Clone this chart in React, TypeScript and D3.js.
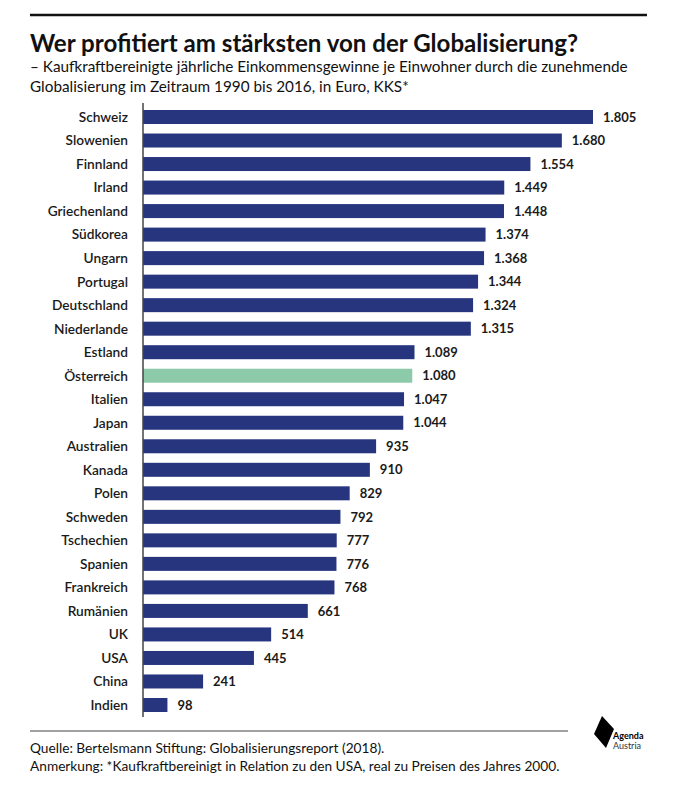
import { useEffect, useRef } from "react";
import * as d3 from "d3";

const countries = [
  "Schweiz", "Slowenien", "Finnland", "Irland", "Griechenland", "Südkorea", "Ungarn",
  "Portugal", "Deutschland", "Niederlande", "Estland", "Österreich", "Italien", "Japan",
  "Australien", "Kanada", "Polen", "Schweden", "Tschechien", "Spanien", "Frankreich",
  "Rumänien", "UK", "USA", "China", "Indien",
];
const gains = [
  1805, 1680, 1554, 1449, 1448, 1374, 1368, 1344, 1324, 1315, 1089, 1080, 1047, 1044,
  935, 910, 829, 792, 777, 776, 768, 661, 514, 445, 241, 98,
];
const highlight = "Österreich";

const title = "Wer profitiert am stärksten von der Globalisierung?";
const subtitleLines = [
  "– Kaufkraftbereinigte jährliche Einkommensgewinne je Einwohner durch die zunehmende",
  "Globalisierung im Zeitraum 1990 bis 2016, in Euro, KKS*",
];
const footerLines = [
  "Quelle: Bertelsmann Stiftung: Globalisierungsreport (2018).",
  "Anmerkung: *Kaufkraftbereinigt in Relation zu den USA, real zu Preisen des Jahres 2000.",
];

const W = 680;
const H = 785;
const FONT = "Lato, 'Open Sans', sans-serif";
const BLUE = "#27357f";
const GREEN = "#8ccaa9";

const de = d3.formatLocale({ decimal: ",", thousands: ".", grouping: [3], currency: ["", " €"] });
const fmt = de.format(",d");

export default function App() {
  const ref = useRef<SVGSVGElement>(null);

  useEffect(() => {
    if (!ref.current) return;
    const svg = d3.select(ref.current);
    svg.selectAll("*").remove();

    const data = countries.map((c, i) => ({ name: c, value: gains[i] }));

    const x = d3.scaleLinear().domain([0, 1805]).range([143, 593]);
    const y = d3.scalePoint<string>().domain(countries).range([117, 705]);
    const barH = 14;

    // top rule
    svg.append("line")
      .attr("x1", 30).attr("x2", 647).attr("y1", 15).attr("y2", 15)
      .attr("stroke", "#111").attr("stroke-width", 2.5);

    svg.append("text")
      .attr("x", 30).attr("y", 52)
      .attr("font-family", FONT).attr("font-weight", 700).attr("font-size", 24.1)
      .attr("fill", "#111")
      .text(title);

    subtitleLines.forEach((t, i) => {
      svg.append("text")
        .attr("x", 30).attr("y", 72 + i * 19.5)
        .attr("font-family", FONT).attr("font-size", 15.3)
        .attr("fill", "#111")
        .text(t);
    });

    // bars
    svg.append("g")
      .selectAll("rect")
      .data(data)
      .join("rect")
      .attr("x", x(0))
      .attr("y", d => y(d.name)! - barH / 2)
      .attr("width", d => x(d.value) - x(0))
      .attr("height", barH)
      .attr("fill", d => (d.name === highlight ? GREEN : BLUE));

    // value labels
    svg.append("g")
      .selectAll("text")
      .data(data)
      .join("text")
      .attr("x", d => x(d.value) + 10)
      .attr("y", d => y(d.name)!)
      .attr("dy", "0.36em")
      .attr("font-family", FONT).attr("font-weight", 700).attr("font-size", 13)
      .attr("fill", "#1a1a1a")
      .text(d => fmt(d.value));

    // category axis
    const axis = svg.append("g")
      .attr("transform", `translate(${x(0)},0)`)
      .call(d3.axisLeft(y).tickSize(0).tickPadding(15));
    axis.select(".domain")
      .attr("d", `M0,103V717`)
      .attr("stroke", "#444").attr("stroke-width", 1.5);
    axis.selectAll("text")
      .attr("font-family", FONT).attr("font-weight", 600).attr("font-size", 13.7)
      .attr("fill", "#1a1a1a");

    // footer
    svg.append("line")
      .attr("x1", 30).attr("x2", 568).attr("y1", 731).attr("y2", 731)
      .attr("stroke", "#444").attr("stroke-width", 1);

    footerLines.forEach((t, i) => {
      svg.append("text")
        .attr("x", 30).attr("y", 753 + i * 18)
        .attr("font-family", FONT).attr("font-size", 13.7)
        .attr("fill", "#111")
        .text(t);
    });

    // logo
    const logo = svg.append("g");
    logo.append("path")
      .attr("d", "M602,716L614,729L606,748L594,734Z")
      .attr("fill", "#000");
    logo.append("text")
      .attr("x", 613).attr("y", 739)
      .attr("font-family", FONT).attr("font-weight", 700).attr("font-size", 9)
      .attr("fill", "#000").text("Agenda");
    logo.append("text")
      .attr("x", 613).attr("y", 749)
      .attr("font-family", FONT).attr("font-size", 9)
      .attr("fill", "#333").text("Austria");
  }, []);

  return (
    <svg
      ref={ref}
      width={W}
      height={H}
      style={{ position: "absolute", left: 0, top: 0, background: "#fff" }}
    />
  );
}
